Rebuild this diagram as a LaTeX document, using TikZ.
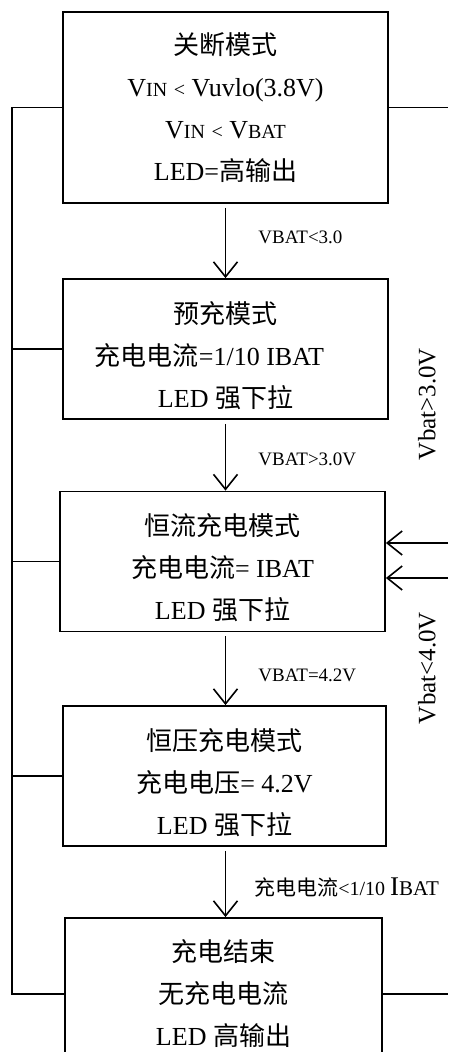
\documentclass[tikz,border=0pt]{standalone}
\usepackage{fontspec}
\setmainfont{Liberation Serif}
\newfontfamily\cjk{Noto Sans CJK SC}
\usetikzlibrary{arrows.meta,positioning}
\newcommand{\zh}[1]{{\cjk #1}}
\newcommand{\sm}[1]{{\fontsize{20}{20}\selectfont #1}}
\newcommand{\lift}{\rule{0pt}{35pt}}

\begin{document}
\begin{tikzpicture}[x=1pt,y=-1pt,
  box/.style={draw, line width=1.8pt, align=center, inner sep=0pt,
    minimum width=325pt, minimum height=140pt, font=\fontsize{26}{42}\selectfont},
  ln/.style={line width=1.8pt},
  arr/.style={line width=1.8pt, shorten <=4pt,
    -{Straight Barb[length=15pt,width=24pt,line width=1.6pt]}},
  lbl/.style={font=\fontsize{19}{19}\selectfont, inner sep=0pt, anchor=west},
  vlbl/.style={font=\fontsize{25}{25}\selectfont, rotate=90, inner sep=0pt}]
\useasboundingbox (0,0) rectangle (448,1052);
\clip (0,0) rectangle (448,1052);

% states
\node[box, minimum height=191pt] (off) at (225.5,107.5)
  {\zh{关断模式}\\ V\sm{IN} \sm{<} Vuvlo(3.8V)\\ V\sm{IN} \sm{<} V\sm{BAT}\\ LED=\zh{高输出}};
\node[box] (pre) at (225.5,349)
  {\lift\zh{预充模式}\\ \zh{充电电流}=1/10 IBAT\rule{32pt}{0pt}\\ LED \zh{强下拉}};
\node[box] (cc) at (222.5,561.5)
  {\lift\zh{恒流充电模式}\\ \zh{充电电流}= IBAT\\ LED \zh{强下拉}};
\node[box, minimum width=323pt] (cv) at (224.5,776)
  {\lift\zh{恒压充电模式}\\ \zh{充电电压}= 4.2V\\ LED \zh{强下拉}};
\node[box, minimum width=317pt, minimum height=152pt] (done) at (223.5,994)
  {\zh{充电结束}\\ \zh{无充电电流}\\ LED \zh{高输出}};

% transitions
\draw[arr] (off.south) -- node[lbl, pos=0.45, right=32pt] {VBAT<3.0} (pre.north);
\draw[arr] (pre.south) -- node[lbl, pos=0.56, right=32pt] {VBAT>3.0V} (pre.south |- cc.north);
\draw[arr] (cc.south -| pre.south) -- node[lbl, pos=0.59, right=32pt] {VBAT=4.2V} (cv.north -| pre.south);
\draw[arr] (cv.south -| pre.south) -- node[lbl, pos=0.58, right=28pt]
  {\fontsize{21}{21}\selectfont\zh{充电电流}{\fontsize{20}{20}\selectfont<1/10 }{\fontsize{27}{27}\selectfont I}{\fontsize{21}{21}\selectfont BAT}} (done.north -| pre.south);

% left bus
\coordinate (bus) at (12,0);
\draw[ln] (off.west) -- (off.west -| bus) |- (done.west);
\foreach \s in {pre,cc,cv}
  \draw[ln] (\s.west) -- (\s.west -| bus);

% right side
\coordinate (rgt) at (448,0);
\coordinate (in1) at (448,543);
\coordinate (in2) at (448,578);
\draw[ln] (off.east) -- (off.east -| rgt);
\draw[ln] (done.east) -- (done.east -| rgt);
\draw[arr, shorten <=0pt] (in1) -- (in1 -| cc.east);
\draw[arr, shorten <=0pt] (in2) -- (in2 -| cc.east);
\node[vlbl] (up) at (427,404) {Vbat>3.0V};
\node[vlbl] (dn) at (427,668) {Vbat<4.0V};
\end{tikzpicture}
\end{document}
